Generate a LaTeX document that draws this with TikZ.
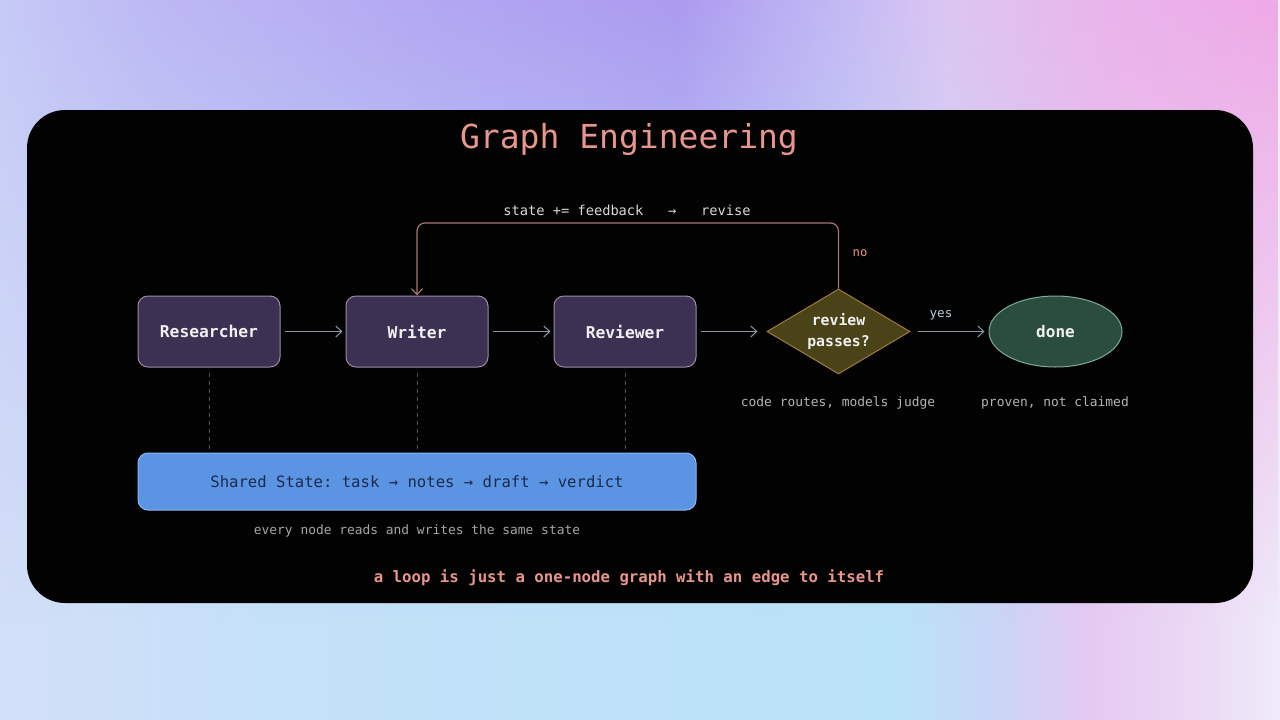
\documentclass[tikz,border=0pt]{standalone}
\usepackage{fontspec}
\setmainfont{DejaVu Sans Mono}
\usetikzlibrary{shapes.geometric,arrows.meta,fadings}
\frenchspacing

\definecolor{tA}{HTML}{C6CAF6}
\definecolor{tB}{HTML}{BDB9F4}
\definecolor{tC}{HTML}{B2A6F2}
\definecolor{tD}{HTML}{AC9BF0}
\definecolor{tE}{HTML}{C3B9F4}
\definecolor{tF}{HTML}{DCC6F2}
\definecolor{tG}{HTML}{EAB5EB}
\definecolor{tH}{HTML}{EEA9E7}
\definecolor{bA}{HTML}{D3DFF8}
\definecolor{bB}{HTML}{C3E1F9}
\definecolor{bC}{HTML}{BCE2F9}
\definecolor{bD}{HTML}{BAE2F9}
\definecolor{bE}{HTML}{CDD3F6}
\definecolor{bF}{HTML}{E5C9F2}
\definecolor{bG}{HTML}{EBDAF5}
\definecolor{bH}{HTML}{EFEBF9}

\definecolor{cardC}{HTML}{020202}
\definecolor{salmon}{HTML}{E8958C}
\definecolor{procF}{HTML}{3D3153}
\definecolor{procB}{HTML}{9A8AA8}
\definecolor{nodeT}{HTML}{F0F0F0}
\definecolor{arrowC}{HTML}{9098A8}
\definecolor{loopC}{HTML}{A87472}
\definecolor{dashC}{HTML}{4E4E4E}
\definecolor{stateF}{HTML}{5C94E4}
\definecolor{stateB}{HTML}{8AB8F0}
\definecolor{stateT}{HTML}{1C2B4C}
\definecolor{capC}{HTML}{B4B4B4}
\definecolor{diaF}{HTML}{4B4318}
\definecolor{diaB}{HTML}{A07A40}
\definecolor{doneF}{HTML}{2B4D3E}
\definecolor{doneB}{HTML}{7FAA98}
\definecolor{yesC}{HTML}{B8CAD8}
\definecolor{loopT}{HTML}{D8D8DC}

\pgfdeclarehorizontalshading{topbg}{100bp}{color(0bp)=(tA); color(25bp)=(tA); color(30.9bp)=(tB); color(42.6bp)=(tC); color(51.6bp)=(tD); color(57.8bp)=(tE); color(62.1bp)=(tF); color(68bp)=(tG); color(75bp)=(tH); color(100bp)=(tH)}
\pgfdeclarehorizontalshading{botbg}{100bp}{color(0bp)=(bA); color(25bp)=(bA); color(36.7bp)=(bB); color(52.3bp)=(bC); color(60.2bp)=(bD); color(64.5bp)=(bE); color(67.6bp)=(bF); color(71.9bp)=(bG); color(75bp)=(bH); color(100bp)=(bH)}
\tikzfading[name=fadedown, top color=transparent!0, middle color=transparent!5, bottom color=transparent!100]

\tikzset{
  proc/.style={draw=procB, fill=procF, rounded corners=10pt, minimum width=142pt,
    minimum height=71pt, line width=1pt, text=nodeT, inner sep=0pt,
    font=\fontsize{16.3}{20}\selectfont\bfseries},
  decide/.style={diamond, draw=diaB, fill=diaF, aspect=1.68, minimum width=143pt,
    minimum height=85pt, inner sep=0pt, line width=1pt, text=nodeT, align=center,
    font=\fontsize{14.8}{21}\selectfont\bfseries},
  finish/.style={ellipse, draw=doneB, fill=doneF, minimum width=133pt, minimum height=71pt,
    inner sep=0pt, line width=1pt, text=nodeT, font=\fontsize{16}{20}\selectfont\bfseries},
  statebox/.style={draw=stateB, fill=stateF, rounded corners=10pt, minimum width=558pt,
    minimum height=57pt, line width=1pt, text=stateT, inner sep=0pt,
    font=\fontsize{15.6}{20}\selectfont},
  flow/.style={draw=arrowC, line width=1pt, -{Straight Barb[length=6pt,width=11pt]}},
  loopline/.style={draw=loopC, line width=1.2pt, rounded corners=8pt,
    -{Straight Barb[length=6pt,width=11pt]}},
  dashline/.style={draw=dashC, line width=1pt, dash pattern=on 4pt off 4pt},
  caption/.style={text=capC, font=\fontsize{12.9}{16}\selectfont, inner sep=0pt},
}

\begin{document}
\begin{tikzpicture}[x=1pt,y=-1pt]
\useasboundingbox (0,0) rectangle (1280,720);
% background
\shade[shading=botbg] (0,0) rectangle (1280,720);
\shade[shading=topbg, path fading=fadedown] (0,0) rectangle (1280,620);
% card
\fill[cardC, rounded corners=38pt] (27,110) rectangle (1253,603);

% title
\node[text=salmon, font=\fontsize{33}{40}\selectfont, inner sep=0pt] (title) at (629,140) {Graph Engineering};

% main nodes
\node[proc] (res) at (209,331.5) {Researcher};
\node[proc] (wri) at (417,331.5) {Writer};
\node[proc] (rev) at (625,331.5) {Reviewer};
\node[decide] (dia) at (838.5,331.5) {review\\passes?};
\node[finish] (done) at (1055.5,331.5) {done};

% shared state
\node[statebox] (state) at (417,481.5) {Shared State: task → notes → draft → verdict};

% flow arrows
\draw[flow, shorten <=4pt, shorten >=3pt] (res) -- (wri);
\draw[flow, shorten <=4pt, shorten >=3pt] (wri) -- (rev);
\draw[flow, shorten <=4pt, shorten >=9pt] (rev) -- (dia);
\draw[flow, shorten <=7pt, shorten >=4pt] (dia) -- (done);

% feedback loop
\coordinate (lr) at (838.5,223);
\coordinate (ll) at (417,223);
\draw[loopline] (dia.north) -- (lr) -- (ll) -- (wri.north);
\node[text=loopT, font=\fontsize{13.7}{16}\selectfont, inner sep=0pt] (looplab) at (627,210) {state += feedback~~~→~~~revise};
\node[text=salmon, font=\fontsize{12.2}{16}\selectfont, inner sep=0pt] (nolab) at (860,253) {no};
\node[text=yesC, font=\fontsize{12.6}{16}\selectfont, inner sep=0pt] (yeslab) at (941,315) {yes};

% dashed connections to state
\draw[dashline, shorten <=5pt, shorten >=3pt] (res.south) -- (res.south |- state.north);
\draw[dashline, shorten <=5pt, shorten >=3pt] (wri.south) -- (wri.south |- state.north);
\draw[dashline, shorten <=5pt, shorten >=3pt] (rev.south) -- (rev.south |- state.north);

% captions
\node[caption] (cap1) at (838,403) {code routes, models judge};
\node[caption] (cap2) at (1055,403) {proven, not claimed};
\node[caption, text=capC!92!black] (cap3) at (417,531) {every node reads and writes the same state};

% footer
\node[text=salmon, font=\fontsize{15.7}{20}\selectfont\bfseries, inner sep=0pt] (foot) at (629,578) {a loop is just a one-node graph with an edge to itself};
\end{tikzpicture}
\end{document}
